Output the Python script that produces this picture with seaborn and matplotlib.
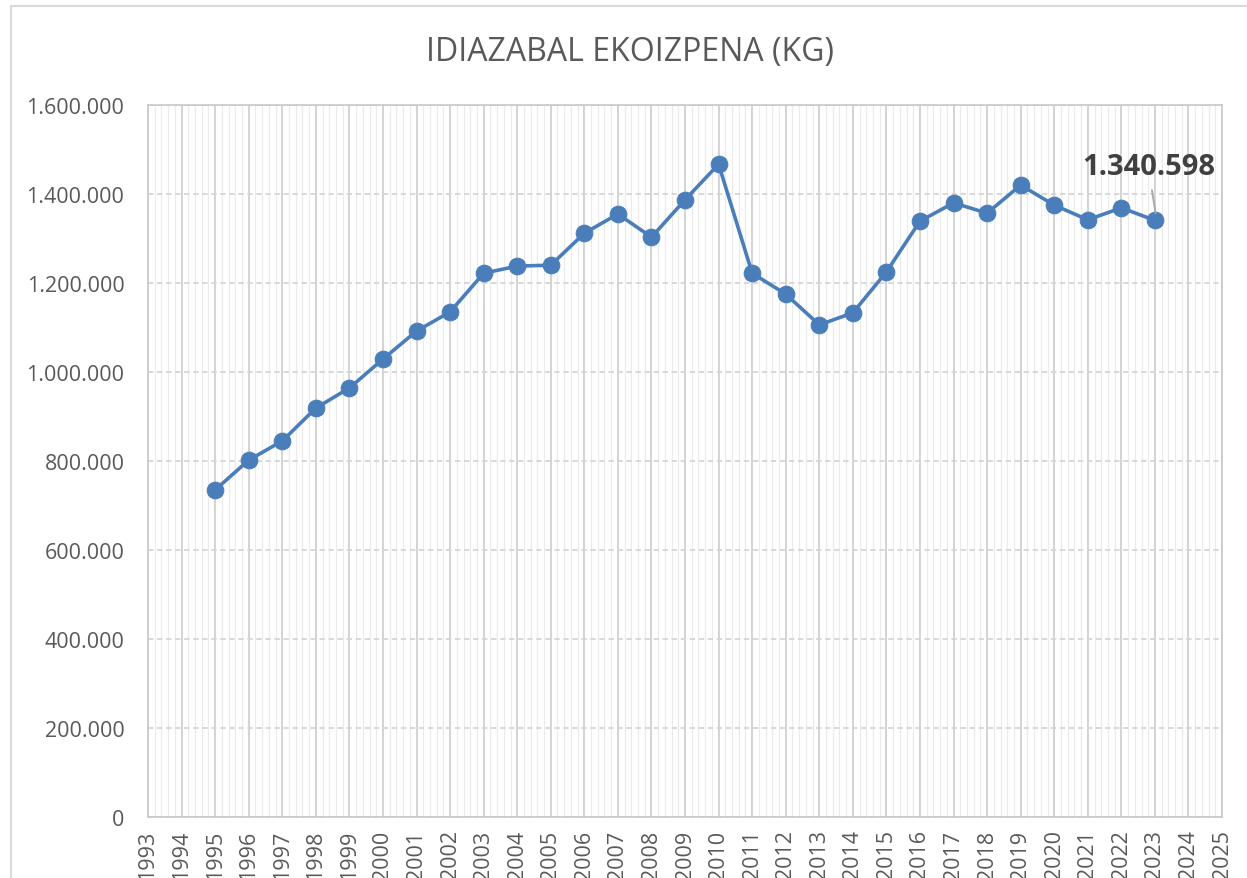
import numpy as np
import pandas as pd
import seaborn as sns
import matplotlib
matplotlib.use("Agg")
import matplotlib.pyplot as plt
from matplotlib.ticker import FuncFormatter, MultipleLocator
from matplotlib.lines import Line2D

years = list(range(1995, 2024))
production = [735000, 802000, 845000, 919000, 964000, 1029000, 1092000, 1135000,
              1222000, 1238000, 1240000, 1312000, 1355000, 1303000, 1387000, 1467000,
              1222000, 1175000, 1106000, 1133000, 1225000, 1339000, 1380000, 1357000,
              1420000, 1375000, 1342000, 1369000, 1340598]
title = "IDIAZABAL EKOIZPENA (KG)"

df = pd.DataFrame({"year": years, "kg": production})

sns.set_theme(style="white")
plt.rcParams['font.family'] = ['Open Sans', 'DejaVu Sans']

fig = plt.figure(figsize=(12.47, 8.79), dpi=100)
ax = fig.add_axes([0.1187, 0.0694, 0.8613, 0.81])

blue = "#4A7EBB"
sns.lineplot(data=df, x="year", y="kg", ax=ax, color=blue, linewidth=2.6,
             marker="o", markersize=12, markeredgecolor=blue, markerfacecolor=blue)

ax.set_xlim(1993, 2025)
ax.set_ylim(0, 1600000)
ax.xaxis.set_major_locator(MultipleLocator(1))
ax.xaxis.set_minor_locator(MultipleLocator(0.2))
ax.yaxis.set_major_locator(MultipleLocator(200000))
ax.yaxis.set_major_formatter(FuncFormatter(lambda v, p: "0" if v == 0 else f"{int(v):,}".replace(",", ".")))
ax.xaxis.set_major_formatter(FuncFormatter(lambda v, p: f"{int(round(v))}"))

ax.grid(which="major", axis="x", color="#D0D0D0", linewidth=1.3)
ax.grid(which="minor", axis="x", color="#EBEBEB", linewidth=0.9)
ax.grid(which="major", axis="y", color="#D6D6D6", linewidth=1.3, linestyle=(0, (3, 2)))
ax.set_axisbelow(True)

for s in ax.spines.values():
    s.set_color("#C8C8C8")
    s.set_linewidth(1.2)

ax.tick_params(axis="x", which="both", length=0, labelsize=15.5, labelcolor="#595959",
               rotation=90, pad=9)
ax.tick_params(axis="y", length=0, labelsize=15.5, labelcolor="#595959", pad=17)
ax.set_xlabel("")
ax.set_ylabel("")

fig.text(0.505, 0.94, title, ha="center", va="center", fontsize=23, color="#595959")

# last value label with leader line
ax.annotate(f"{production[-1]:,}".replace(",", "."), xy=(years[-1] + 0.02, production[-1] + 16000),
            xytext=(2022.8, 1461000), ha="center", va="center", fontsize=21,
            fontweight="bold", color="#404040",
            arrowprops=dict(arrowstyle="-", color="#A6A6A6", linewidth=1.3,
                            shrinkA=4, shrinkB=0))

# chart frame (top and left edges visible)
fig.add_artist(Line2D([0.0088, 0.0088], [0, 0.992], transform=fig.transFigure,
                      color="#D9D9D9", linewidth=1.5))
fig.add_artist(Line2D([0.0088, 1.0], [0.992, 0.992], transform=fig.transFigure,
                      color="#D9D9D9", linewidth=1.5))

fig.savefig("out.png", dpi=100)
